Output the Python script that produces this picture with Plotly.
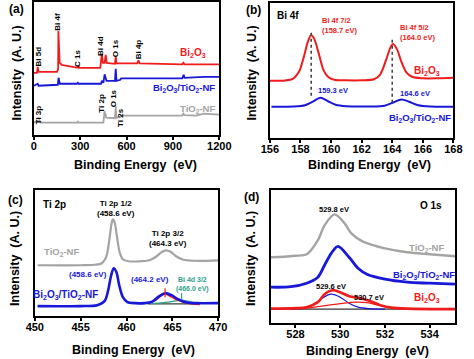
import plotly.graph_objects as go

RED = "#f01c1c"
BLUE = "#1818d8"
GRAY = "#a4a4a4"
TEAL = "#2f9f8c"
FONT = "Liberation Sans"

# ---------------- (a) survey spectra ----------------
a_bi2o3_ev = [0, 20, 25, 30, 150, 157, 159, 162, 164, 167, 175, 180, 250, 285, 290, 295, 430, 440, 447,
              458, 465, 472, 525, 530, 535, 670, 677, 685, 960, 968, 975, 1200]
a_bi2o3_int = [62, 62, 68, 63, 63, 66, 104, 89, 102, 72, 71, 70, 68, 67, 68.5, 67, 67, 81, 72,
               72, 80, 72, 71, 78, 71.5, 71.5, 74.5, 71.5, 70.5, 72, 70.5, 70.5]
a_comp_ev = [0, 25, 30, 155, 160, 163, 168, 280, 285, 290, 435, 440, 450, 458, 464, 470, 525, 530, 535,
             560, 565, 960, 970, 975, 1100, 1200]
a_comp_int = [49, 51, 49, 50, 57, 55, 51, 51, 52, 51, 51, 54, 52, 60.5, 58, 54, 54, 66, 54,
              55, 56.5, 56.5, 60, 57, 58, 58]
a_tio2_ev = [0, 35, 45, 280, 285, 290, 450, 458, 462, 464, 468, 525, 530, 534, 560, 565, 960, 968, 975,
             1050, 1100, 1200]
a_tio2_int = [12, 14.5, 12, 12, 13, 12, 12, 23.5, 19, 21, 17, 16.5, 28.5, 17, 17.5, 19, 19, 21, 19.5,
              19, 21, 20]

# ---------------- (b) Bi 4f ----------------
b_bi2o3_ev = [156.0, 157.0, 157.5, 157.9, 158.2, 158.5, 158.7, 158.9, 159.2, 159.5, 159.8, 160.2, 161.0,
              162.0, 162.8, 163.2, 163.6, 163.9, 164.05, 164.3, 164.6, 164.9, 165.3, 166.0, 167.0, 168.0]
b_bi2o3_int = [57, 57.3, 59, 66, 80, 97, 103, 99, 84, 68, 61, 58, 57.5,
               57.5, 58.5, 63, 78, 91, 94, 89, 76, 66, 61, 59.5, 59.5, 60]
b_comp_ev = [156.1, 157.5, 158.3, 158.8, 159.3, 159.8, 160.3, 161.0, 162.5, 163.5, 164.1, 164.6, 165.1,
             165.7, 166.5, 168.0]
b_comp_int = [31, 31.2, 32.5, 36, 40, 36.5, 33, 31.5, 31.2, 32, 35.5, 38.3, 36, 32.5, 31.2, 31]
b_peak_ev = [158.7, 164.0]
b_dash_bottom = [42, 35]
b_dash_top = [107, 99]

# ---------------- (c) Ti 2p ----------------
c_tio2_ev = [450.3, 455, 456.5, 457.3, 457.8, 458.1, 458.35, 458.5, 458.7, 458.95, 459.25, 459.6, 460.2,
             461.5, 462.5, 463.2, 463.8, 464.3, 464.8, 465.4, 466.2, 467.5, 470]
c_tio2_int = [51, 51, 51.5, 53, 60, 75, 92, 97, 94, 80, 64, 57, 55,
              55, 56, 59.5, 64, 66, 64.5, 60, 56.5, 55.5, 56]
c_comp_ev = [450.3, 455, 456.8, 457.6, 458.0, 458.3, 458.6, 458.9, 459.2, 459.6, 460.1, 461, 462, 462.8,
             463.5, 464.2, 464.9, 465.6, 466.4, 467.5, 470]
c_comp_int = [10, 10, 11, 15, 26, 40, 48, 44, 31, 19, 14, 13, 13, 14.5,
              19.5, 23, 21, 17, 14, 13, 13]
c_ti_fit_ev = [462.3, 463.2, 463.8, 464.2, 464.7, 465.3, 466.0, 466.8, 468.0]
c_ti_fit_int = [12.5, 16, 20.5, 22, 20, 17, 14.5, 12.5, 11.5]
c_bi_fit_ev = [462.5, 463.5, 464.5, 465.5, 466.0, 466.5, 467.3, 468.0]
c_bi_fit_int = [12.5, 13, 14, 15.5, 16, 15.3, 13.5, 12.5]
c_base_ev = [462.3, 468.0]
c_base_int = [12.3, 12.3]

# ---------------- (d) O 1s ----------------
d_tio2_ev = [526.9, 527.5, 528.0, 528.5, 529.0, 529.3, 529.75, 530.2, 530.5, 531.0, 531.5, 532.0, 533.0,
             534.0, 535.15]
d_tio2_int = [66, 66.5, 67.5, 69, 83, 98, 109, 100, 90, 82, 78, 75, 71, 69, 67]
d_comp_ev = [526.9, 527.8, 528.5, 529.0, 529.3, 529.6, 529.9, 530.4, 530.8, 531.2, 532.0, 533.0, 534.0,
             535.15]
d_comp_int = [36, 36.5, 40, 46, 58, 70, 77, 66, 55, 49, 44, 41, 40, 39]
d_bi2o3_ev = [526.9, 528.0, 528.5, 529.0, 529.3, 529.65, 530.0, 530.4, 530.9, 531.3, 531.8, 532.3, 533.0,
              535.15]
d_bi2o3_int = [14.5, 15, 16, 21, 29, 33, 31, 27, 25, 22.5, 18, 15.5, 14.5, 14]
d_lattice_ev = [527.8, 528.5, 528.9, 529.2, 529.6, 530.0, 530.4, 530.8, 531.3, 532.0]
d_lattice_int = [14, 15.5, 19.5, 25, 29, 26, 20, 16, 14.5, 14]
d_oh_ev = [527.8, 528.5, 529.0, 529.5, 530.0, 530.7, 531.2, 531.7, 532.2, 532.8, 533.5]
d_oh_int = [14, 15, 16.5, 18, 19.5, 21, 20.5, 18, 15.5, 14.5, 14]
d_base_ev = [526.9, 535.15]
d_base_int = [14, 14]

fig = go.Figure()


def line(x, y, color, width, xa, ya, shape="linear", dash="solid"):
    fig.add_trace(go.Scatter(x=x, y=y, mode="lines", xaxis=xa, yaxis=ya, showlegend=False,
                             hoverinfo="skip",
                             line=dict(color=color, width=width, shape=shape, dash=dash,
                                       smoothing=0.9 if shape == "spline" else None)))


# (a)
line(a_bi2o3_ev, a_bi2o3_int, RED, 1.8, "x", "y")
line(a_comp_ev, a_comp_int, BLUE, 1.8, "x", "y")
line(a_tio2_ev, a_tio2_int, GRAY, 1.8, "x", "y")
# (b)
line(b_bi2o3_ev, b_bi2o3_int, RED, 2, "x2", "y2", "spline")
line(b_comp_ev, b_comp_int, BLUE, 2, "x2", "y2", "spline")
for ev, lo, hi in zip(b_peak_ev, b_dash_bottom, b_dash_top):
    line([ev, ev], [lo, hi], "#444444", 1.6, "x2", "y2", dash="3px,3px")
# (c)
line(c_tio2_ev, c_tio2_int, GRAY, 2.2, "x3", "y3", "spline")
line(c_base_ev, c_base_int, "#334433", 1.2, "x3", "y3")
line(c_bi_fit_ev, c_bi_fit_int, TEAL, 1.3, "x3", "y3", "spline")
line(c_ti_fit_ev, c_ti_fit_int, RED, 1.3, "x3", "y3", "spline")
line(c_comp_ev, c_comp_int, BLUE, 2.6, "x3", "y3", "spline")
line([464.2, 464.2], [19, 28], RED, 1.2, "x3", "y3")
line([466.0, 466.0], [17, 23], TEAL, 1.2, "x3", "y3")
# (d)
line(d_tio2_ev, d_tio2_int, GRAY, 2.4, "x4", "y4", "spline")
line(d_comp_ev, d_comp_int, BLUE, 2.8, "x4", "y4", "spline")
line(d_base_ev, d_base_int, "#333333", 1.3, "x4", "y4")
line(d_lattice_ev, d_lattice_int, BLUE, 1.2, "x4", "y4", "spline")
line(d_oh_ev, d_oh_int, RED, 1.2, "x4", "y4", "spline")
line(d_bi2o3_ev, d_bi2o3_int, RED, 2.6, "x4", "y4", "spline")

W, H = 474, 359


def px(x0, x1):
    return [x0 / W, x1 / W]


def py(top, bottom):
    return [1 - bottom / H, 1 - top / H]


def xax(rng, dtick, dom, anchor):
    return dict(range=rng, dtick=dtick, domain=dom, anchor=anchor, showline=True, mirror=True,
                linecolor="black", linewidth=2, ticks="outside", ticklen=3, tickwidth=1.5,
                tickcolor="black", showgrid=False, zeroline=False, ticklabelstandoff=-3,
                tickfont=dict(family=FONT, size=11, color="black", weight="bold"))


def yax(rng, dom, anchor):
    return dict(range=rng, domain=dom, anchor=anchor, showline=True, mirror=True, linecolor="black",
                linewidth=2, ticks="", showticklabels=False, showgrid=False, zeroline=False)


fig.update_layout(
    width=W, height=H, margin=dict(l=0, r=0, t=0, b=0),
    paper_bgcolor="white", plot_bgcolor="white",
    xaxis=xax([0, 1200], 300, px(26, 220), "y"),
    yaxis=yax([0, 133], py(1, 134), "x"),
    xaxis2=xax([156, 168], 2, px(273, 465), "y2"),
    yaxis2=yax([0, 135], py(2, 137), "x2"),
    xaxis3=xax([450, 470], 5, px(27, 219), "y3"),
    yaxis3=yax([0, 126], py(190, 316), "x3"),
    xaxis4=xax([526.9, 535.15], 2, px(274, 467), "y4"),
    yaxis4=yax([0, 133], py(190, 323), "x4"),
)
fig.update_xaxes(tick0=0)

anns = []


def ann(text, x, y, xref, yref, size, color="black", angle=0, align="center", xanchor="center"):
    anns.append(dict(text=text, x=x, y=y, xref=xref, yref=yref, showarrow=False, textangle=angle,
                     xanchor=xanchor, yanchor="middle", align=align,
                     font=dict(family=FONT, size=size, color=color, weight="bold")))


def pann(text, x, y, size, angle=0, color="black"):
    ann(text, x / W, 1 - y / H, "paper", "paper", size, color, angle)


B2 = "Bi<sub>2</sub>O<sub>3</sub>"
COMP = "Bi<sub>2</sub>O<sub>3</sub>/TiO<sub>2</sub>-NF"
TIO2 = "TiO<sub>2</sub>-NF"

# panel labels and axis titles
for lab, x, y in [("(a)", 8, 8), ("(b)", 256, 9), ("(c)", 7, 200), ("(d)", 254, 197)]:
    pann(lab, x, y, 12)
for x, y in [(132, 164), (377, 164), (130, 350), (375, 351)]:
    pann("Binding Energy  (eV)", x, y, 12.5)
for x, y in [(8, 72), (254, 72), (7, 258), (254, 258)]:
    pann("Intensity  (A. U.)", x, y, 12.5, angle=-90)

# (a)
for t, x, y in [("Bi 5d", 31, 78), ("Bi 4f", 155, 113), ("C 1s", 286, 76), ("Bi 4d", 435, 89),
                ("O 1s", 534, 87), ("Bi 4p", 677, 86), ("Ti 3p", 31, 20), ("Ti 2p", 441, 32),
                ("O 1s", 516, 36), ("Ti 2s", 559, 17)]:
    ann(t, x, y, "x", "y", 8, angle=-90)
ann(B2, 1031, 82, "x", "y", 10, RED)
ann(COMP, 969, 47, "x", "y", 9.5, BLUE)
ann(TIO2, 1056, 26, "x", "y", 9.5, GRAY)

# (b)
ann("Bi 4f", 157.2, 122, "x2", "y2", 10)
ann("Bi 4f 7/2<br>(158.7 eV)", 159.25, 112, "x2", "y2", 7.5, RED, align="left", xanchor="left")
ann("Bi 4f 5/2<br>(164.0 eV)", 164.4, 105, "x2", "y2", 7.5, RED, align="left", xanchor="left")
ann(B2, 166.25, 67, "x2", "y2", 10, RED)
ann("159.3 eV", 160.1, 47, "x2", "y2", 7.5, BLUE)
ann("164.6 eV", 165.5, 44, "x2", "y2", 7.5, BLUE)
ann(COMP, 165.8, 20, "x2", "y2", 9.5, BLUE)

# (c)
ann("Ti 2p", 452.1, 112, "x3", "y3", 10)
ann("Ti 2p 1/2<br>(458.6 eV)", 458.85, 108, "x3", "y3", 8)
ann("Ti 2p 3/2<br>(464.3 eV)", 464.5, 77.5, "x3", "y3", 8)
ann(TIO2, 452.9, 64, "x3", "y3", 9.5, GRAY)
ann("(458.6 eV)", 455.8, 42, "x3", "y3", 8, BLUE)
ann("(464.2 eV)", 462.6, 37, "x3", "y3", 8, BLUE)
ann("Bi 4d 3/2<br>(466.0 eV)", 467.2, 32, "x3", "y3", 7, TEAL)
ann(COMP, 453.4, 21, "x3", "y3", 10, BLUE)

# (d)
ann("O 1s", 534.08, 118, "x4", "y4", 10)
ann("529.8 eV", 529.72, 114, "x4", "y4", 7.5)
ann(TIO2, 533.87, 75, "x4", "y4", 9.5, GRAY)
ann(COMP, 533.74, 48, "x4", "y4", 9.5, BLUE)
ann("529.6 eV", 529.59, 37, "x4", "y4", 7.5)
ann("530.7 eV", 531.3, 26, "x4", "y4", 7.5)
ann(B2, 533.87, 25, "x4", "y4", 10, RED)

fig.update_layout(annotations=anns)
fig.write_html("out.html", config={"displayModeBar": False},
               post_script="document.body.style.margin='0px';document.body.style.padding='0px';")
